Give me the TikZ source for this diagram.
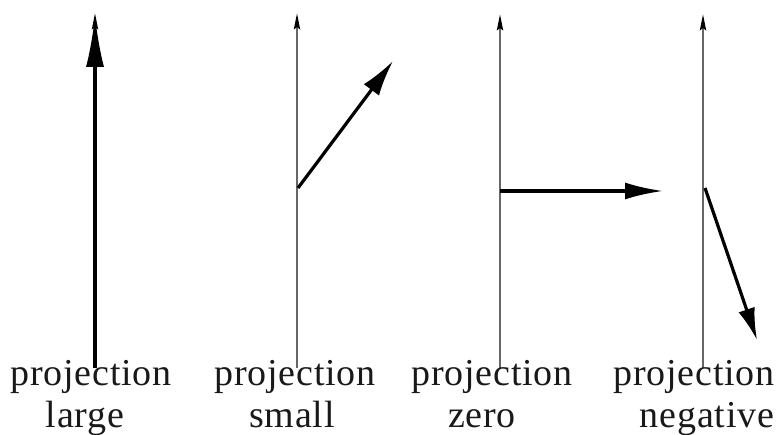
\documentclass[tikz,border=0pt]{standalone}
\usepackage{fontspec}
\setmainfont[LetterSpace=2]{Liberation Serif}
\usetikzlibrary{arrows.meta}
\tikzset{
  axis/.style={draw=black!60, line width=2.6pt, -{Stealth[length=16pt,width=6pt,inset=2pt,black]}},
  vec/.style={draw=black, line width=3.2pt},
  lbl/.style={anchor=base, inner sep=0pt, font=\fontsize{38}{42}\selectfont, text=black!90},
}
\begin{document}
\begin{tikzpicture}[x=1pt,y=-1pt]
\useasboundingbox (0,0) rectangle (784,435);
% panel 1
\coordinate (b1) at (95,368);
\coordinate (t1) at (95,13);
\draw[axis] (b1) -- (t1);
\coordinate (e1) at (95,15);
\draw[vec, -{Latex[length=52pt,width=18pt]}] (b1) -- (e1);
% panel 2
\coordinate (b2) at (297,368);
\coordinate (t2) at (297,13);
\draw[axis] (b2) -- (t2);
\coordinate (o2) at (298,188);
\coordinate (e2) at (393,61);
\draw[vec, -{Latex[length=36pt,width=19pt]}] (o2) -- (e2);
% panel 3
\coordinate (b3) at (500,368);
\coordinate (t3) at (500,14);
\draw[axis] (b3) -- (t3);
\coordinate (o3) at (500,191);
\coordinate (e3) at (663,191);
\draw[vec, -{Latex[length=38pt,width=17pt]}] (o3) -- (e3);
% panel 4
\coordinate (b4) at (703,368);
\coordinate (t4) at (703,14);
\draw[axis] (b4) -- (t4);
\coordinate (o4) at (705,188);
\coordinate (e4) at (757,340);
\draw[vec, -{Latex[length=32pt,width=17pt]}] (o4) -- (e4);
% labels
\node[lbl] (l1a) at (91,385) {projection};
\node[lbl] (l1b) at (85,427) {large};
\node[lbl] (l2a) at (295,385) {projection};
\node[lbl] (l2b) at (292,427) {small};
\node[lbl] (l3a) at (492,385) {projection};
\node[lbl] (l3b) at (482,427) {zero};
\node[lbl] (l4a) at (694,385) {projection};
\node[lbl] (l4b) at (707,427) {negative};
\end{tikzpicture}
\end{document}
